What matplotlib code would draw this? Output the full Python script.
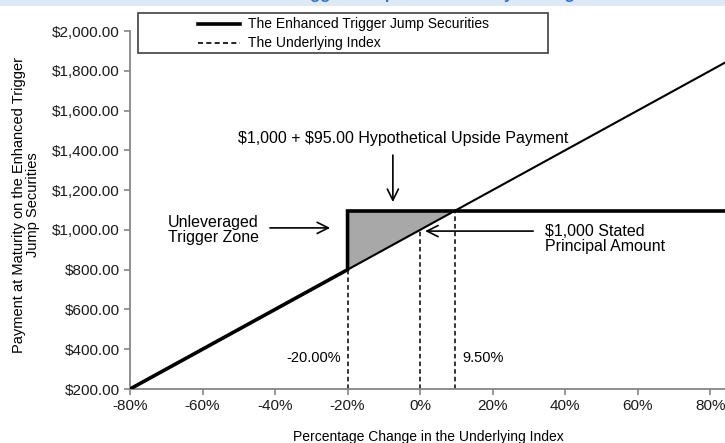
import matplotlib.pyplot as plt
from matplotlib.patches import Rectangle, Polygon
from matplotlib.lines import Line2D
from matplotlib.ticker import FuncFormatter

plt.rcParams['font.family'] = ['Liberation Sans', 'DejaVu Sans']

# Data (percentage change in index -> payment at maturity)
index_x = [-80, 90]
index_y = [200, 1900]
security_x = [-80, -20, -20, 90]
security_y = [200, 800, 1095, 1095]
zone_x = [-20, -20, 9.5]
zone_y = [800, 1095, 1095]
marker_x = [-20, 0, 9.5]
marker_y = [800, 1000, 1095]
marker_labels = ['-20.00%', '', '9.50%']
x_ticks = [-80, -60, -40, -20, 0, 20, 40, 60, 80]
y_ticks = [200, 400, 600, 800, 1000, 1200, 1400, 1600, 1800, 2000]

W, H = 725, 443
fig = plt.figure(figsize=(W / 100, H / 100), dpi=100)

# title bar, cut off at the top as in the source
fig.patches.append(Rectangle((0, 1 - 6 / H), 1, 6 / H, transform=fig.transFigure,
                             facecolor='#dde9f5', edgecolor='none', zorder=0))
fig.text(0.56, 1 + 0.5 / H, 'Enhanced Trigger Jump Securities Payoff Diagram',
         ha='center', va='baseline', fontsize=12, fontweight='bold', color='#2f75d6')

ax = fig.add_axes([130 / W, (H - 389) / H, (W - 130) / W, (389 - 31) / H])
ax.set_xlim(-80, 84.1)
ax.set_ylim(200, 2000)

gray = '#868686'
for s in ['top', 'right']:
    ax.spines[s].set_visible(False)
for s in ['left', 'bottom']:
    ax.spines[s].set_color(gray)
    ax.spines[s].set_linewidth(1.3)
ax.tick_params(colors=gray, width=1.2, length=4, labelsize=11, labelcolor='#1a1a1a')
ax.set_xticks(x_ticks)
ax.set_yticks(y_ticks)
ax.xaxis.set_major_formatter(FuncFormatter(lambda v, p: f'{v:.0f}%'))
ax.yaxis.set_major_formatter(FuncFormatter(lambda v, p: f'${v:,.2f}'))

# shaded trigger zone
ax.add_patch(Polygon(list(zip(zone_x, zone_y)), closed=True, facecolor='#a8a8a8',
                     edgecolor='none', zorder=1))

# dashed guide lines
for mx, my in zip(marker_x, marker_y):
    ax.plot([mx, mx], [200, my], color='black', lw=1.1, ls=(0, (3, 2)), zorder=2)

ax.plot(index_x, index_y, color='black', lw=1.5, zorder=3)
ax.plot(security_x, security_y, color='black', lw=2.6, zorder=4, solid_joinstyle='miter')

ax.text(-21.8, 356, marker_labels[0], ha='right', va='center', fontsize=10.5)
ax.text(11.6, 356, marker_labels[2], ha='left', va='center', fontsize=10.5)

arrow = dict(arrowstyle='->,head_length=0.8,head_width=0.4', color='black', lw=1.2,
             shrinkA=0, shrinkB=0)
ax.text(-4.7, 1461, r'\$1,000 + \$95.00 Hypothetical Upside Payment', ha='center',
        va='center', fontsize=11.5)
ax.annotate('', xy=(-7.5, 1140), xytext=(-7.5, 1376), arrowprops=arrow)

ax.text(-69.5, 1000, 'Unleveraged\nTrigger Zone', ha='left', va='center',
        fontsize=11.5, linespacing=1.05)
ax.annotate('', xy=(-24.8, 1010), xytext=(-41.4, 1010), arrowprops=arrow)

ax.text(34.5, 954, '$1,000 Stated\nPrincipal Amount', ha='left', va='center',
        fontsize=11.5, linespacing=1.05)
ax.annotate('', xy=(1.4, 994), xytext=(31.2, 994), arrowprops=arrow)

# legend box
fig.patches.append(Rectangle((138 / W, (H - 53) / H), 410 / W, 40 / H,
                             transform=fig.transFigure, facecolor='white',
                             edgecolor='#404040', lw=1.2, zorder=5))
fig.lines.append(Line2D([198 / W, 240 / W], [(H - 24) / H] * 2, transform=fig.transFigure,
                        color='black', lw=2.6, zorder=6))
fig.lines.append(Line2D([198 / W, 240 / W], [(H - 43) / H] * 2, transform=fig.transFigure,
                        color='black', lw=1.2, ls=(0, (3, 2)), zorder=6))
fig.text(248 / W, (H - 24) / H, 'The Enhanced Trigger Jump Securities', ha='left',
         va='center', fontsize=10, zorder=7)
fig.text(248 / W, (H - 43) / H, 'The Underlying Index', ha='left', va='center',
         fontsize=10, zorder=7)

fig.text(26.5 / W, (H - 205) / H, 'Payment at Maturity on the Enhanced Trigger\nJump Securities',
         rotation=90, ha='center', va='center', multialignment='center', fontsize=10.5,
         linespacing=1.0)
fig.text(428 / W, 5.5 / H, 'Percentage Change in the Underlying Index', ha='center',
         va='center', fontsize=10)

fig.savefig('out.png', dpi=100)
